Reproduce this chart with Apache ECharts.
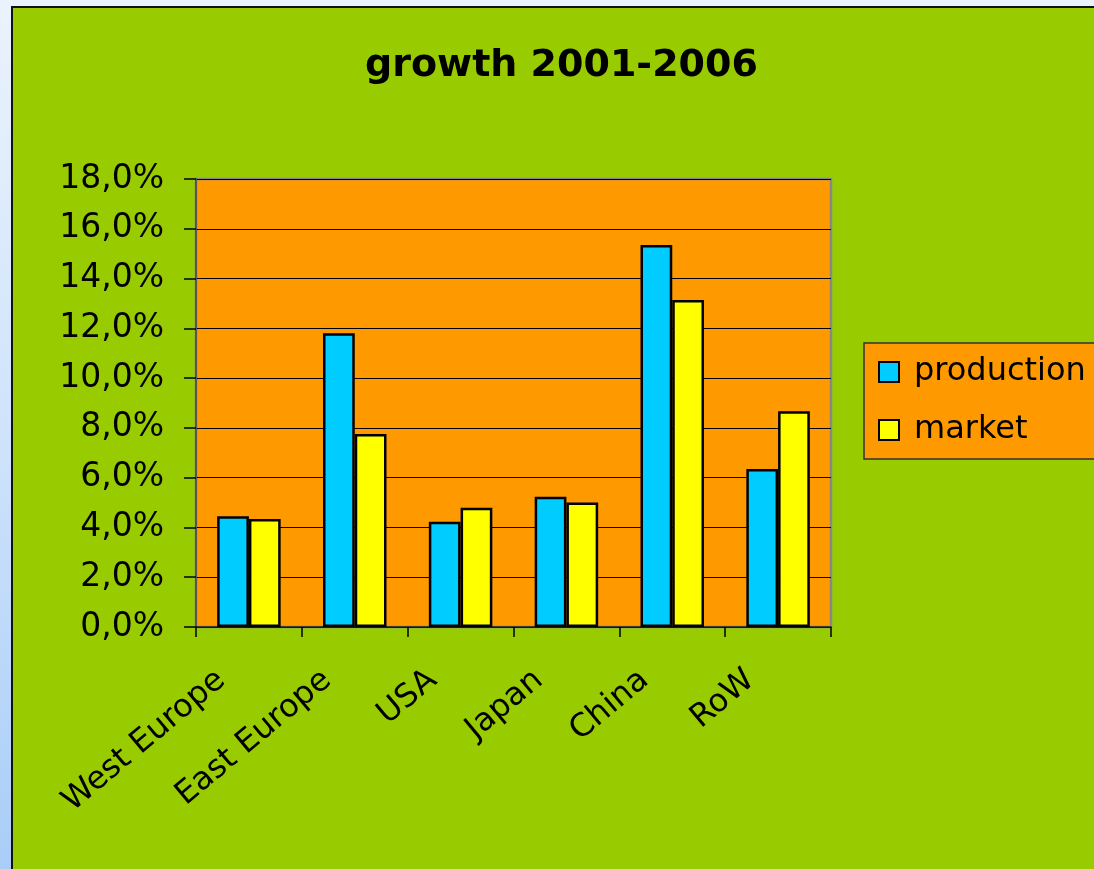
<!DOCTYPE html>
<html>
<head>
<meta charset="utf-8">
<script src="https://cdn.jsdelivr.net/npm/echarts@6/dist/echarts.min.js"></script>
<style>
html,body{margin:0;padding:0;width:1094px;height:869px;overflow:hidden;}
body{background:linear-gradient(180deg,#eaf3fd 0%,#cfe3fb 50%,#a9cdf7 100%);}
#chart{position:absolute;left:11px;top:6px;width:1085px;height:865px;border-left:2px solid #111;border-top:2px solid #111;}
</style>
</head>
<body>
<div id="chart"></div>
<script>
const categories = ['West Europe', 'East Europe', 'USA', 'Japan', 'China', 'RoW'];
const production = [0.0445, 0.118, 0.0423, 0.0523, 0.1535, 0.0635];
const market = [0.0434, 0.0775, 0.0479, 0.0500, 0.1314, 0.0867];
const yTicks = { min: 0, max: 0.18, interval: 0.02 };

const FONT = 'DejaVu Sans, Liberation Sans, Arial, sans-serif';
const chart = echarts.init(document.getElementById('chart'));
chart.setOption({
  backgroundColor: '#99cc00',
  animation: false,
  title: {
    text: 'growth 2001-2006',
    left: 347, top: 34,
    textStyle: { fontFamily: FONT, fontSize: 38, fontWeight: 'bold', color: '#000' }
  },
  legend: {
    orient: 'vertical',
    left: 851, top: 335,
    padding: [13, 60, 13, 14],
    backgroundColor: '#ff9900',
    borderColor: '#333',
    borderWidth: 1.5,
    itemWidth: 20, itemHeight: 20,
    itemGap: 26,
    icon: 'rect',
    itemStyle: { borderColor: '#000', borderWidth: 2 },
    textStyle: { fontFamily: FONT, fontSize: 32, lineHeight: 32, color: '#000', padding: [0, 0, 0, 10] },
    data: ['production', 'market']
  },
  grid: {
    left: 183, top: 171, width: 635, height: 448,
    show: true, backgroundColor: '#ff9900', borderColor: '#888', borderWidth: 2.5
  },
  xAxis: {
    type: 'category',
    data: categories,
    axisLine: { lineStyle: { color: '#222', width: 1.5 } },
    axisTick: { show: true, length: 10, lineStyle: { color: '#000', width: 1.5 } },
    axisLabel: { interval: 0, rotate: 40, fontFamily: FONT, fontSize: 32, color: '#000', margin: 26, padding: [0, 36, 0, 0] }
  },
  yAxis: {
    type: 'value',
    min: yTicks.min, max: yTicks.max, interval: yTicks.interval,
    axisLine: { show: true, lineStyle: { color: '#555', width: 2 } },
    axisTick: { show: true, length: 12, lineStyle: { color: '#000', width: 1.5 } },
    splitLine: { lineStyle: { color: '#000', width: 1.2 } },
    axisLabel: {
      fontFamily: FONT, fontSize: 33, color: '#000', margin: 32,
      formatter: v => (v * 100).toFixed(1).replace('.', ',') + '%'
    }
  },
  series: [
    { name: 'production', type: 'bar', data: production, barGap: '0%', barCategoryGap: '40%',
      itemStyle: { color: '#00ccff', borderColor: '#000', borderWidth: 2.5 } },
    { name: 'market', type: 'bar', data: market, barGap: '0%', barCategoryGap: '40%',
      itemStyle: { color: '#ffff00', borderColor: '#000', borderWidth: 2.5 } }
  ]
});
</script>
</body>
</html>
